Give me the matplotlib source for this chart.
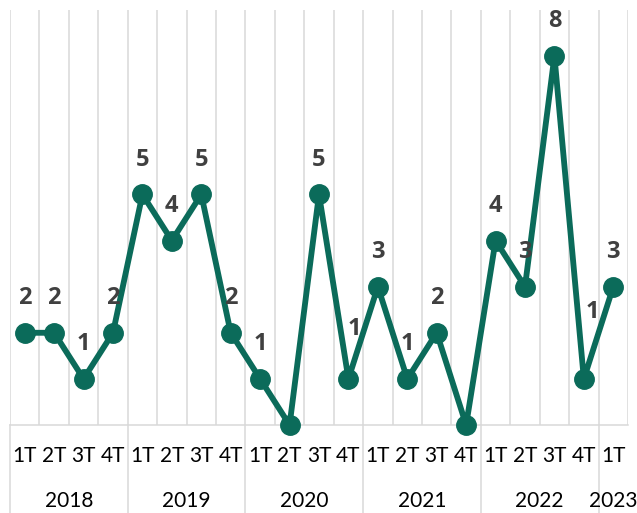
import matplotlib.pyplot as plt
from matplotlib.transforms import blended_transform_factory

years = ['2018', '2019', '2020', '2021', '2022', '2023']
quarters_per_year = [4, 4, 4, 4, 4, 1]
quarters = ['1T', '2T', '3T', '4T'] * 5 + ['1T']
values = [2, 2, 1, 2, 5, 4, 5, 2, 1, 0, 5, 1, 3, 1, 2, 0, 4, 3, 8, 1, 3]

# a few labels were moved by hand in the original (index -> dx, dy in points)
label_shift = {11: (4, 11), 19: (6, 23)}

green = '#0B6B5A'
grid = '#D9D9D9'
text_color = '#404040'

fig = plt.figure(figsize=(6.37, 5.13), dpi=100)
ax = fig.add_axes([10 / 637, (513 - 425) / 513, 618 / 637, 415 / 513])

x = list(range(len(values)))
ax.plot(x, values, color=green, lw=4.2, marker='o', ms=14, zorder=3,
        solid_capstyle='round', clip_on=False)

for i, v in enumerate(values):
    if v == 0:
        continue
    dx, dy = label_shift.get(i, (0, 0))
    ax.annotate(str(v), (i, v), xytext=(dx, 25 + dy), textcoords='offset points',
                ha='center', va='center', fontsize=17, fontweight='bold',
                color=text_color, family='Open Sans')

ax.set_xlim(-0.5, len(values) - 0.5)
ax.set_ylim(0, 9)
ax.set_yticks([])
for b in range(len(values) + 1):
    ax.axvline(b - 0.5, color=grid, lw=1.1, zorder=1)
for s in ['top', 'right', 'left']:
    ax.spines[s].set_visible(False)
ax.spines['bottom'].set_color(grid)
ax.spines['bottom'].set_linewidth(1.1)

ax.set_xticks(x)
ax.set_xticklabels(quarters, fontsize=15, color='black', family='Lato')
ax.tick_params(axis='x', length=0, pad=15)

# year labels and separators below the axis
trans = blended_transform_factory(ax.transData, ax.transAxes)
start = 0
bounds = [-0.5]
for yr, n in zip(years, quarters_per_year):
    mid = start + (n - 1) / 2
    ax.text(mid, -0.182, yr, transform=trans, ha='center', va='center',
            fontsize=15, color='black', family='Lato')
    start += n
    bounds.append(start - 0.5)
for b in bounds[:-1]:
    ax.plot([b, b], [0, -0.25], transform=trans, color=grid, lw=1.1,
            clip_on=False)

fig.savefig('out.png', dpi=100)
